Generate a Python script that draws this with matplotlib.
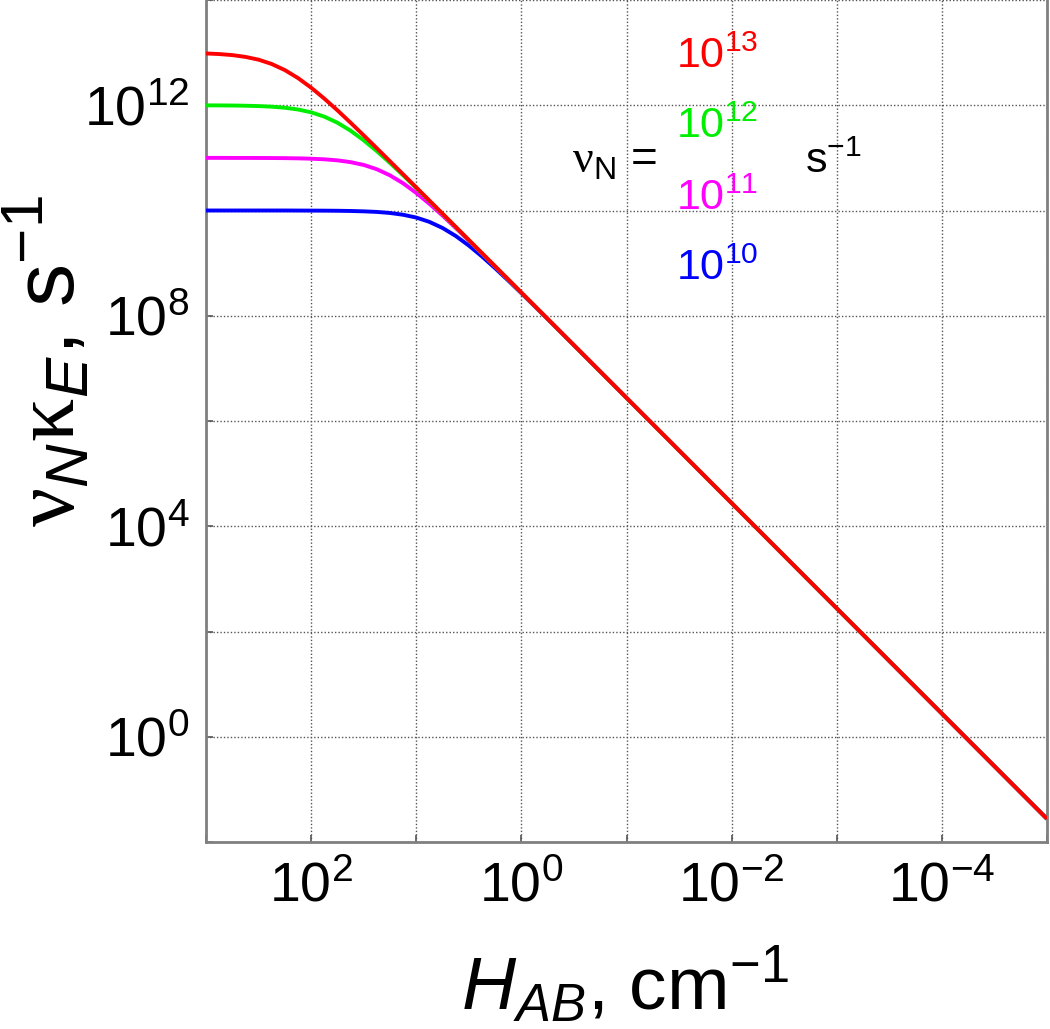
import numpy as np
import matplotlib
matplotlib.use('Agg')
import matplotlib.pyplot as plt
from matplotlib.ticker import FixedLocator, FuncFormatter

plt.rcParams['font.family'] = ['Liberation Sans', 'DejaVu Sans']
plt.rcParams['mathtext.fontset'] = 'custom'
plt.rcParams['mathtext.rm'] = 'Liberation Sans'
plt.rcParams['mathtext.it'] = 'Liberation Sans:italic'
plt.rcParams['mathtext.bf'] = 'Liberation Sans:bold'
plt.rcParams['mathtext.sf'] = 'Liberation Sans'
plt.rcParams['mathtext.cal'] = 'Liberation Serif'

# ---- data (log10 values) ----
log_H = [3.0, 2.875, 2.75, 2.625, 2.5, 2.375, 2.25, 2.125, 2.0, 1.875, 1.75, 1.625,
         1.5, 1.375, 1.25, 1.125, 1.0, 0.875, 0.75, 0.625, 0.5, 0.375, 0.25, 0.125,
         0.0, -0.125, -0.25, -0.375, -0.5, -0.75, -1.0, -2.0, -3.0, -4.0, -5.0]
log_rate_1e13 = [12.984, 12.973, 12.953, 12.919, 12.866, 12.784, 12.668, 12.517, 12.334,
                 12.127, 11.904, 11.669, 11.428, 11.183, 10.936, 10.688, 10.439, 10.189,
                 9.94, 9.69, 9.44, 9.19, 8.94, 8.69, 8.44, 8.19, 7.94, 7.69, 7.44, 6.94,
                 6.44, 4.44, 2.44, 0.44, -1.56]
log_rate_1e12 = [11.998, 11.997, 11.995, 11.991, 11.984, 11.973, 11.953, 11.919, 11.866,
                 11.784, 11.668, 11.517, 11.334, 11.127, 10.904, 10.669, 10.428, 10.183,
                 9.936, 9.688, 9.439, 9.189, 8.94, 8.69, 8.44, 8.19, 7.94, 7.69, 7.44, 6.94,
                 6.44, 4.44, 2.44, 0.44, -1.56]
log_rate_1e11 = [11.0, 11.0, 10.999, 10.999, 10.998, 10.997, 10.995, 10.991, 10.984,
                 10.973, 10.953, 10.919, 10.866, 10.784, 10.668, 10.517, 10.334, 10.127,
                 9.904, 9.669, 9.428, 9.183, 8.936, 8.688, 8.439, 8.189, 7.94, 7.69, 7.44,
                 6.94, 6.44, 4.44, 2.44, 0.44, -1.56]
log_rate_1e10 = [10.0, 10.0, 10.0, 10.0, 10.0, 10.0, 10.0, 9.999, 9.998,
                 9.997, 9.995, 9.991, 9.984, 9.973, 9.953, 9.919, 9.866, 9.784,
                 9.668, 9.517, 9.334, 9.127, 8.904, 8.669, 8.428, 8.183, 7.936, 7.688,
                 7.439, 6.94, 6.44, 4.44, 2.44, 0.44, -1.56]

series_labels = ['10^{10}', '10^{11}', '10^{12}', '10^{13}']
series_values = [log_rate_1e10, log_rate_1e11, log_rate_1e12, log_rate_1e13]
series_colors = ['#0000ff', '#ff00ff', '#00ee00', '#ff0000']

x_tick_exps = [3, 2, 1, 0, -1, -2, -3, -4, -5]
y_tick_exps = [-2, 0, 2, 4, 6, 8, 10, 12, 14]

W, H = 1050, 1029
fig = plt.figure(figsize=(W / 100, H / 100), dpi=100)
ax = fig.add_axes([206 / W, 1 - 842 / H, (1047 - 206) / W, 842 / H])

Hx = 10.0 ** np.array(log_H)
for vals, col in zip(series_values, series_colors):
    ax.plot(Hx, 10.0 ** np.array(vals), color=col, lw=2.8, solid_capstyle='butt',
            solid_joinstyle='round', zorder=3)

ax.set_xscale('log')
ax.set_yscale('log')
ax.set_xlim(1e3, 1e-5)
ax.set_ylim(1e-2, 1e14)

ax.xaxis.set_major_locator(FixedLocator([10.0 ** e for e in x_tick_exps]))
ax.yaxis.set_major_locator(FixedLocator([10.0 ** e for e in y_tick_exps]))
ax.xaxis.set_minor_locator(FixedLocator([]))
ax.yaxis.set_minor_locator(FixedLocator([]))


def xfmt(v, pos):
    e = int(round(np.log10(v)))
    return r'$\mathdefault{10^{%d}}$' % e if e % 2 == 0 else ''


def yfmt(v, pos):
    e = int(round(np.log10(v)))
    return r'$\mathdefault{10^{%d}}$' % e if e % 4 == 0 else ''


ax.xaxis.set_major_formatter(FuncFormatter(xfmt))
ax.yaxis.set_major_formatter(FuncFormatter(yfmt))
ax.tick_params(axis='both', which='major', direction='in', length=5, width=1.2,
               color='#555555', labelsize=40)
ax.tick_params(axis='x', pad=14)
ax.tick_params(axis='y', pad=12)

ax.grid(True, which='major', color='#555555', linestyle=(0, (1, 1.5)), linewidth=1.0, zorder=1)
for s in ['left', 'right', 'bottom']:
    ax.spines[s].set_color('#808080')
    ax.spines[s].set_linewidth(2)
ax.spines['top'].set_visible(False)


def fx(px):
    return px / W


def fy(py):
    return 1 - py / H


# axis labels
fig.text(fx(625), fy(1010), r'$H_{AB}$, cm$^{-1}$', fontsize=54, ha='center', va='baseline')
fig.text(fx(48), fy(361), r'$\mathcal{\nu}_N\mathcal{\kappa}_E$, s$^{-1}$', fontsize=62,
         rotation=90, ha='center', va='center')

# in-plot annotation
fig.text(fx(657), fy(173), r'$\mathcal{\nu}_\mathrm{N}$ =', fontsize=33, ha='right', va='baseline')
fig.text(fx(805), fy(173), r's$^{-1}$', fontsize=31, ha='left', va='baseline')
baselines = [280, 210, 138, 68]
for lab, col, b in zip(series_labels, series_colors, baselines):
    fig.text(fx(717), fy(b), r'$\mathdefault{%s}$' % lab, fontsize=31, color=col,
             ha='center', va='baseline')

fig.savefig('out.png', dpi=100)
